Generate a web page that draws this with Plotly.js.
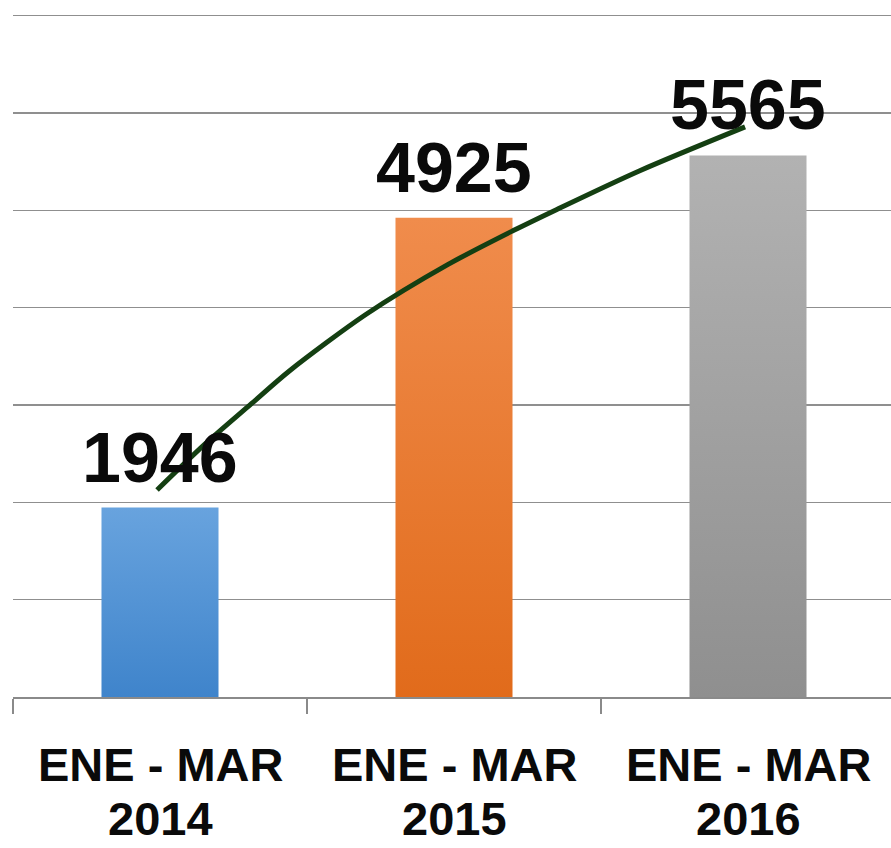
<!DOCTYPE html>
<html>
<head>
<meta charset="utf-8">
<script src="https://cdn.plot.ly/plotly-3.0.1.min.js"></script>
<style>html,body{margin:0;padding:0;background:#fff;overflow:hidden}</style>
</head>
<body>
<div id="chart" style="width:891px;height:848px"></div>
<script>
// Data
var periodLine1 = ["ENE - MAR", "ENE - MAR", "ENE - MAR"];
var periodLine2 = ["2014", "2015", "2016"];
var categories = ["ENE - MAR 2014", "ENE - MAR 2015", "ENE - MAR 2016"];
var values = [1946, 4925, 5565];
var barColors = ["#5393d6", "#e97b34", "#a1a1a1"];
var gradTop = ["#68a3de", "#f08c4c", "#b2b2b2"];
var gradBottom = ["#3f84cb", "#e16b1b", "#8f8f8f"];

// Trend curve, x in category index units
var trendX = [-0.01, 0.15, 0.31, 0.44, 0.70, 0.98, 1.20, 1.35, 1.63, 1.99];
var trendY = [2127, 2590, 3011, 3350, 3930, 4445, 4790, 5010, 5405, 5858];

var catIdx = [0, 1, 2];

var traces = [
  {
    type: "bar",
    x: categories,
    y: values,
    width: 0.398,
    marker: {color: barColors, line: {width: 0}},
    hoverinfo: "skip",
    showlegend: false
  },
  {
    type: "scatter",
    mode: "lines",
    x: trendX,
    y: trendY,
    xaxis: "x2",
    line: {color: "#143f12", width: 5, shape: "spline", smoothing: 0.8},
    hoverinfo: "skip",
    showlegend: false
  }
];

var xr = [-0.5, -0.5 + 878 / 294];
var annotations = [];
var labelFont = {family: "Liberation Sans, Arial, sans-serif", size: 47, color: "#0a0a0a", weight: 700};
var valueFont = {family: "Liberation Sans, Arial, sans-serif", size: 70, color: "#0a0a0a", weight: 700};
for (var i = 0; i < categories.length; i++) {
  annotations.push({
    xref: "x2", yref: "y", x: catIdx[i], y: values[i],
    text: "<b>" + values[i] + "</b>", showarrow: false, borderpad: 0,
    xanchor: "center", yanchor: "middle", yshift: 50, font: valueFont
  });
  annotations.push({
    xref: "x2", yref: "y", x: catIdx[i], y: 0,
    text: "<b>" + periodLine1[i] + "</b>", showarrow: false, borderpad: 0,
    xanchor: "center", yanchor: "middle", yshift: -67, font: labelFont
  });
  annotations.push({
    xref: "x2", yref: "y", x: catIdx[i], y: 0,
    text: "<b>" + periodLine2[i] + "</b>", showarrow: false, borderpad: 0,
    xanchor: "center", yanchor: "middle", yshift: -121, font: labelFont
  });
}

var layout = {
  width: 891, height: 848,
  margin: {l: 13, r: 0, t: 6, b: 151},
  paper_bgcolor: "#ffffff", plot_bgcolor: "#ffffff",
  showlegend: false,
  xaxis: {
    type: "category", range: xr, tickson: "boundaries",
    ticks: "outside", ticklen: 15, tickwidth: 1.5, tickcolor: "#8a8a8a",
    showticklabels: false, showgrid: false, zeroline: false,
    showline: true, linecolor: "#8a8a8a", linewidth: 1.5, fixedrange: true
  },
  xaxis2: {
    overlaying: "x", type: "linear", range: xr, visible: false, fixedrange: true
  },
  yaxis: {
    range: [0, 7100], tickvals: [1000, 2000, 3000, 4000, 5000, 6000, 7000],
    showgrid: true, gridcolor: "#8f8f8f", gridwidth: 1.5,
    showticklabels: false, ticks: "", zeroline: false, showline: false, fixedrange: true
  },
  annotations: annotations
};

Plotly.newPlot("chart", traces, layout, {staticPlot: true, displayModeBar: false}).then(function (gd) {
  var svg = gd.querySelector("svg.main-svg");
  var ns = "http://www.w3.org/2000/svg";
  var defs = svg.querySelector("defs") || svg.insertBefore(document.createElementNS(ns, "defs"), svg.firstChild);
  var paths = gd.querySelectorAll(".barlayer .point path");
  for (var i = 0; i < paths.length; i++) {
    var g = document.createElementNS(ns, "linearGradient");
    g.setAttribute("id", "barGrad" + i);
    g.setAttribute("x1", "0"); g.setAttribute("y1", "0");
    g.setAttribute("x2", "0"); g.setAttribute("y2", "1");
    var s1 = document.createElementNS(ns, "stop");
    s1.setAttribute("offset", "0"); s1.setAttribute("stop-color", gradTop[i]);
    var s2 = document.createElementNS(ns, "stop");
    s2.setAttribute("offset", "1"); s2.setAttribute("stop-color", gradBottom[i]);
    g.appendChild(s1); g.appendChild(s2);
    defs.appendChild(g);
    paths[i].style.fill = "url(#barGrad" + i + ")";
  }
});
</script>
</body>
</html>
